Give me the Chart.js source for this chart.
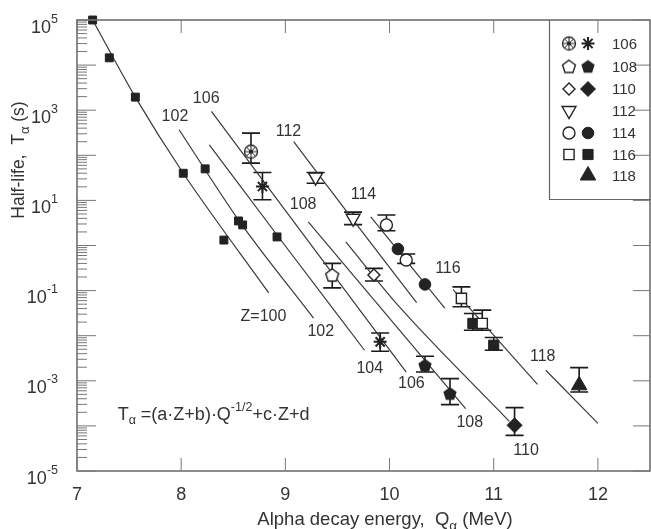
<!DOCTYPE html>
<html>
<head>
<meta charset="utf-8">
<script src="https://cdn.jsdelivr.net/npm/chart.js@4.4.1/dist/chart.umd.min.js"></script>
<style>
    html, body { margin: 0; padding: 0; background: #fff; overflow: hidden; }
    #chart { display: block; }
</style>
</head>
<body>
<canvas id="chart" width="660" height="529"></canvas>
<script>
// Alpha-decay half-lives vs Q value, with systematics lines for Z = 100..118

const qRange = [7, 12.5];
const tRange = [1e-5, 1e5];
const qTicks = [7, 8, 9, 10, 11, 12];
const tLabelExp = [5, 3, 1, -1, -3, -5];

// small filled squares on the lower-Z lines (no legend entry)
const refQ = [7.15, 7.31, 7.56, 8.02, 8.23, 8.55, 8.59, 8.41, 8.92];
const refT = [1e5, 1.45e4, 1950, 40, 50, 3.5, 2.86, 1.32, 1.55];

// Z = 106
const z106oQ = [8.67];
const z106oT = [121];
const z106oLo = [67];
const z106oHi = [311];
const z106fQ = [8.78, 9.91];
const z106fT = [20.3, 0.0073];
const z106fLo = [10.3, 0.00453];
const z106fHi = [41.5, 0.0115];

// Z = 108
const z108oQ = [9.45];
const z108oT = [0.221];
const z108oLo = [0.115];
const z108oHi = [0.402];
const z108fQ = [10.34, 10.58];
const z108fT = [0.00221, 0.00052];
const z108fLo = [0.00157, 0.000296];
const z108fHi = [0.0035, 0.00112];

// Z = 110
const z110oQ = [9.85];
const z110oT = [0.221];
const z110oLo = [0.163];
const z110oHi = [0.311];
const z110fQ = [11.2];
const z110fT = [1.03e-4];
const z110fLo = [6.15e-5];
const z110fHi = [2.54e-4];

// Z = 112
const z112oQ = [9.29, 9.65];
const z112oT = [32.8, 4.02];
const z112oLo = [24, 2.9];
const z112oHi = [41.7, 5.5];

// Z = 114
const z114oQ = [9.97, 10.16];
const z114oT = [2.86, 0.476];
const z114oLo = [2.13, 0.402];
const z114oHi = [4.76, 0.647];
const z114fQ = [10.08, 10.34];
const z114fT = [0.836, 0.137];

// Z = 116
const z116oQ = [10.69, 10.89];
const z116oT = [0.0671, 0.0187];
const z116oLo = [0.0437, 0.0132];
const z116oHi = [0.121, 0.0369];
const z116fQ = [10.8, 11.0];
const z116fT = [0.0187, 0.00615];
const z116fLo = [0.0132, 0.00476];
const z116fHi = [0.0311, 0.00912];

// Z = 118
const z118fQ = [11.82];
const z118fT = [7.94e-4];
const z118fLo = [5.64e-4];
const z118fHi = [1.96e-3];

// systematics curves
const lineZ = [100, 102, 104, 106, 108, 110, 112, 114, 116, 118];
const lineQ = [
    [7.15, 7.56, 8.02, 8.84],
    [7.98, 8.57, 9.27],
    [8.27, 8.92, 9.76],
    [8.29, 10.16],
    [9.22, 10.73],
    [9.58, 10.08, 11.15],
    [9.08, 9.65, 10.26],
    [9.82, 10.53],
    [10.61, 11.42],
    [11.5, 12.0]
];
const lineT = [
    [1e5, 1950, 40, 0.0893],
    [369, 3.16, 0.0245],
    [171, 1.71, 0.00476],
    [940, 0.00155],
    [3.33, 2.41e-4],
    [1.2, 0.0476, 1.26e-4],
    [200, 3.69, 0.0541],
    [4.3, 0.0408],
    [0.105, 8.36e-4],
    [0.00171, 1.14e-4]
];

// curve labels
const labelText = ['106', '102', '112', '108', '114', '116', '118', 'Z=100', '102', '104', '106', '108', '110'];
const labelQ = [8.24, 7.94, 9.03, 9.17, 9.75, 10.56, 11.47, 8.79, 9.34, 9.81, 10.21, 10.77, 11.31];
const labelT = [1774, 728, 338, 8.24, 13.7, 0.3, 0.00338, 0.0271, 0.0121, 0.00187, 8.67e-4, 1.21e-4, 2.86e-5];

const legendZ = ['106', '108', '110', '112', '114', '116', '118'];

const FONT = '"Liberation Sans", Arial, sans-serif';
const INK = '#222';
const TXT = '#333';

function pts(q, t) {
    return q.map((v, i) => ({ x: v, y: t[i] }));
}

function makeShape(size, draw) {
    const c = document.createElement('canvas');
    c.width = size;
    c.height = size;
    draw(c.getContext('2d'), size / 2);
    return c;
}

function polygon(g, cx, cy, r, n) {
    g.beginPath();
    for (let k = 0; k < n; k++) {
        const a = -Math.PI / 2 + k * 2 * Math.PI / n;
        const px = cx + r * Math.cos(a);
        const py = cy + r * Math.sin(a);
        if (k === 0) g.moveTo(px, py); else g.lineTo(px, py);
    }
    g.closePath();
}

const pentOpen = makeShape(18, (g, m) => {
    polygon(g, m, m + 0.5, 6.8, 5);
    g.fillStyle = '#fff';
    g.fill();
    g.lineWidth = 1.4;
    g.strokeStyle = INK;
    g.stroke();
});
const pentFilled = makeShape(18, (g, m) => {
    polygon(g, m, m + 0.5, 7, 5);
    g.fillStyle = INK;
    g.fill();
});
const circledStar = makeShape(18, (g, m) => {
    g.beginPath();
    g.arc(m, m, 6.5, 0, 2 * Math.PI);
    g.fillStyle = '#fff';
    g.fill();
    g.lineWidth = 1.3;
    g.strokeStyle = INK;
    g.stroke();
    g.beginPath();
    for (let k = 0; k < 4; k++) {
        const a = k * Math.PI / 4;
        g.moveTo(m - 6 * Math.cos(a), m - 6 * Math.sin(a));
        g.lineTo(m + 6 * Math.cos(a), m + 6 * Math.sin(a));
    }
    g.lineWidth = 1;
    g.stroke();
    g.beginPath();
    g.arc(m, m, 2, 0, 2 * Math.PI);
    g.fillStyle = INK;
    g.fill();
});

function openSet(q, t, lo, hi, style, r, rot) {
    return {
        data: pts(q, t), errLo: lo, errHi: hi,
        pointStyle: style, pointRadius: r, pointRotation: rot || 0,
        backgroundColor: '#fff', borderColor: INK, borderWidth: 1.4,
        showLine: false, clip: false, order: 1
    };
}

function filledSet(q, t, lo, hi, style, r, rot) {
    return {
        data: pts(q, t), errLo: lo, errHi: hi,
        pointStyle: style, pointRadius: r, pointRotation: rot || 0,
        backgroundColor: INK, borderColor: INK, borderWidth: 1,
        showLine: false, clip: false, order: 1
    };
}

const markerSets = [
    filledSet(refQ, refT, null, null, 'rect', 5.6),
    openSet(z106oQ, z106oT, z106oLo, z106oHi, circledStar, 7),
    { ...filledSet(z106fQ, z106fT, z106fLo, z106fHi, 'star', 6.5), borderWidth: 2 },
    openSet(z108oQ, z108oT, z108oLo, z108oHi, pentOpen, 7),
    filledSet(z108fQ, z108fT, z108fLo, z108fHi, pentFilled, 7),
    openSet(z110oQ, z110oT, z110oLo, z110oHi, 'rectRot', 6),
    filledSet(z110fQ, z110fT, z110fLo, z110fHi, 'rectRot', 7.5),
    openSet(z112oQ, z112oT, z112oLo, z112oHi, 'triangle', 8, 180),
    openSet(z114oQ, z114oT, z114oLo, z114oHi, 'circle', 6),
    filledSet(z114fQ, z114fT, null, null, 'circle', 5.8),
    openSet(z116oQ, z116oT, z116oLo, z116oHi, 'rect', 7.2),
    filledSet(z116fQ, z116fT, z116fLo, z116fHi, 'rect', 7.2),
    filledSet(z118fQ, z118fT, z118fLo, z118fHi, 'triangle', 9)
];

const lineSets = lineZ.map((z, i) => ({
    label: 'Z=' + z,
    data: pts(lineQ[i], lineT[i]),
    showLine: true,
    pointRadius: 0,
    borderColor: '#3a3a3a',
    borderWidth: 1.2,
    cubicInterpolationMode: 'monotone',
    fill: false,
    clip: false,
    order: 2
}));

// text made of runs with sub/superscripts
function richText(ctx, parts, x, y, align) {
    let w = 0;
    parts.forEach(p => {
        ctx.font = p.size + 'px ' + FONT;
        p.w = ctx.measureText(p.t).width;
        w += p.w;
    });
    let cx = align === 'center' ? x - w / 2 : (align === 'right' ? x - w : x);
    ctx.textAlign = 'left';
    ctx.textBaseline = 'alphabetic';
    parts.forEach(p => {
        ctx.font = p.size + 'px ' + FONT;
        ctx.fillText(p.t, cx, y + (p.dy || 0));
        cx += p.w;
    });
}

const errorBars = {
    id: 'errorBars',
    beforeDatasetsDraw(chart) {
        const { ctx, scales: { x, y } } = chart;
        ctx.save();
        ctx.strokeStyle = '#1a1a1a';
        ctx.lineWidth = 1.6;
        chart.data.datasets.forEach(ds => {
            if (!ds.errLo) return;
            ds.data.forEach((p, i) => {
                const px = x.getPixelForValue(p.x);
                const top = y.getPixelForValue(ds.errHi[i]);
                const bot = y.getPixelForValue(ds.errLo[i]);
                ctx.beginPath();
                ctx.moveTo(px, top); ctx.lineTo(px, bot);
                ctx.moveTo(px - 9, top); ctx.lineTo(px + 9, top);
                ctx.moveTo(px - 9, bot); ctx.lineTo(px + 9, bot);
                ctx.stroke();
            });
        });
        ctx.restore();
    }
};

const decor = {
    id: 'decor',
    afterDraw(chart) {
        const { ctx, chartArea: a, scales: { x, y } } = chart;
        ctx.save();

        // frame
        ctx.strokeStyle = '#666';
        ctx.lineWidth = 1.5;
        ctx.strokeRect(a.left, a.top, a.right - a.left, a.bottom - a.top);

        // log ticks on the left, decade ticks on the right
        ctx.lineWidth = 1;
        ctx.strokeStyle = '#777';
        for (let e = -5; e <= 5; e++) {
            const py = y.getPixelForValue(Math.pow(10, e));
            ctx.beginPath();
            ctx.moveTo(a.left, py); ctx.lineTo(a.left + 19, py);
            ctx.moveTo(a.right, py); ctx.lineTo(a.right - 17, py);
            ctx.stroke();
            if (e === 5) continue;
            for (let m = 2; m <= 9; m++) {
                const pm = y.getPixelForValue(m * Math.pow(10, e));
                ctx.beginPath();
                ctx.moveTo(a.left, pm); ctx.lineTo(a.left + 10, pm);
                ctx.stroke();
            }
        }
        // x ticks, top and bottom
        qTicks.forEach(q => {
            const px = x.getPixelForValue(q);
            ctx.beginPath();
            ctx.moveTo(px, a.bottom); ctx.lineTo(px, a.bottom - 13);
            ctx.moveTo(px, a.top); ctx.lineTo(px, a.top + 13);
            ctx.stroke();
        });

        // tick labels
        ctx.fillStyle = TXT;
        tLabelExp.forEach(e => {
            const py = y.getPixelForValue(Math.pow(10, e));
            richText(ctx, [
                { t: '10', size: 18 },
                { t: String(e), size: 12.5, dy: -10 }
            ], 58, py + 12.5, 'right');
        });
        ctx.font = '18px ' + FONT;
        ctx.textAlign = 'center';
        ctx.textBaseline = 'alphabetic';
        qTicks.forEach(q => {
            ctx.fillText(String(q), x.getPixelForValue(q), 500);
        });

        // axis titles
        richText(ctx, [
            { t: 'Alpha decay energy,  Q', size: 18.5 },
            { t: 'α', size: 13.5, dy: 4.5 },
            { t: ' (MeV)', size: 18.5 }
        ], 385, 525, 'center');

        ctx.save();
        ctx.translate(24, 160);
        ctx.rotate(-Math.PI / 2);
        richText(ctx, [
            { t: 'Half-life,  T', size: 17.5 },
            { t: 'α', size: 13, dy: 4.5 },
            { t: ' (s)', size: 17.5 }
        ], 0, 0, 'center');
        ctx.restore();

        // formula
        richText(ctx, [
            { t: 'T', size: 18 },
            { t: 'α', size: 12.5, dy: 4.5 },
            { t: ' =(a·Z+b)·Q', size: 18 },
            { t: '-1/2', size: 12.5, dy: -9 },
            { t: '+c·Z+d', size: 18 }
        ], x.getPixelForValue(7.39), y.getPixelForValue(1.9e-4) + 6.5, 'left');

        // legend box
        const lx = 549.5, lb = 199.5;
        ctx.strokeStyle = '#666';
        ctx.lineWidth = 1.2;
        ctx.beginPath();
        ctx.moveTo(lx, a.top); ctx.lineTo(lx, lb); ctx.lineTo(660, lb);
        ctx.stroke();

        const rows = [43.5, 66.5, 89, 110.5, 133, 154.5, 175.5];
        const openCol = 569, fillCol = 588;
        const ds = chart.data.datasets;
        const legendOpen = [ds[1], ds[3], ds[5], ds[7], ds[8], ds[10], null];
        const legendFill = [ds[2], ds[4], ds[6], null, ds[9], ds[11], ds[12]];
        const drawMark = (d, cx, cy) => {
            if (!d) return;
            ctx.fillStyle = d.backgroundColor;
            ctx.strokeStyle = d.borderColor;
            ctx.lineWidth = d.borderWidth;
            Chart.helpers.drawPoint(ctx, {
                pointStyle: d.pointStyle,
                radius: d.pointRadius,
                rotation: d.pointRotation,
                borderWidth: d.borderWidth
            }, cx, cy);
        };
        rows.forEach((ry, i) => {
            drawMark(legendOpen[i], openCol, ry);
            drawMark(legendFill[i], fillCol, ry);
            ctx.fillStyle = TXT;
            ctx.font = '15px ' + FONT;
            ctx.textAlign = 'left';
            ctx.textBaseline = 'middle';
            ctx.fillText(legendZ[i], 612, ry + 1);
        });

        ctx.restore();
    }
};

const curveLabels = {
    id: 'curveLabels',
    afterDatasetsDraw(chart) {
        const { ctx, scales: { x, y } } = chart;
        ctx.save();
        ctx.fillStyle = TXT;
        ctx.font = '16px ' + FONT;
        ctx.textAlign = 'center';
        ctx.textBaseline = 'middle';
        labelText.forEach((s, i) => {
            ctx.fillText(s, x.getPixelForValue(labelQ[i]), y.getPixelForValue(labelT[i]));
        });
        ctx.restore();
    }
};

new Chart(document.getElementById('chart'), {
    type: 'scatter',
    data: { datasets: markerSets.concat(lineSets) },
    options: {
        responsive: false,
        animation: false,
        devicePixelRatio: 1,
        layout: { padding: { left: 77, top: 20, right: 7, bottom: 58 } },
        plugins: {
            legend: { display: false },
            tooltip: { enabled: false }
        },
        scales: {
            x: { type: 'linear', min: qRange[0], max: qRange[1], display: false },
            y: { type: 'logarithmic', min: tRange[0], max: tRange[1], display: false }
        }
    },
    plugins: [errorBars, curveLabels, decor]
});
</script>
</body>
</html>
